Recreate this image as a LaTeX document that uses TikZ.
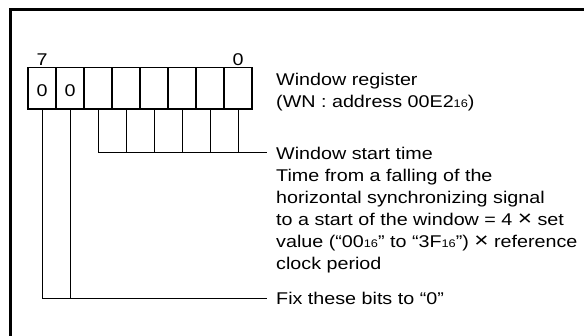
\documentclass[tikz,border=0pt]{standalone}
\usepackage{fontspec}
\newfontfamily\regfont[FakeStretch=1.16]{Liberation Sans}
\usetikzlibrary{positioning,calc}
\newcommand\hexsub[1]{{\fontsize{11}{11}\selectfont #1}}
\newcommand\tms{{\fontsize{21}{21}\selectfont ×}}
\tikzset{
  cell/.style={draw,line width=1.3pt,outer sep=0pt,inner sep=0pt,
               minimum width=28pt,minimum height=41.5pt,
               text height=17pt,text depth=0pt},
  lead/.style={line width=0.9pt},
  txt/.style={inner sep=0pt,align=left},
  bitno/.style={inner sep=0pt,text depth=0pt},
}

\begin{document}
\begin{tikzpicture}[x=1pt,y=-1pt,font=\regfont\fontsize{17}{22}\selectfont]
\useasboundingbox (0,0) rectangle (584,336);
\draw[line width=2.5pt] (10.5,336) -- (10.5,9.5) -- (584,9.5);
% register, bit 7 on the left
\foreach \b/\v [count=\i from 0] in {7/0,6/0,5/{},4/{},3/{},2/{},1/{},0/{}}
  \node[cell] (c\b) at ({42+28*\i},88.3) {\v};
\node[bitno,above=2pt of c7] (b7) {7};
\node[bitno,above=2pt of c0] (b0) {0};
% texts
\node[txt,anchor=north west] (wreg) at (276,72.8)
  {Window register\\(WN : address 00E2\hexsub{16})};
\node[txt,anchor=north west] (wtime) at (276,146.8)
  {Window start time\\Time from a falling of the\\horizontal synchronizing signal\\
   to a start of the window = 4 \tms{} set\\
   value (“00\hexsub{16}” to “3F\hexsub{16}”) \tms{} reference\\clock period};
\node[txt,anchor=base west] (wfix) at (276,305) {Fix these bits to “0”};
% leads
\coordinate (wend) at ([shift={(-9pt,-5.5pt)}]wtime.north west);
\foreach \b in {5,...,0}
  \draw[lead] (c\b.south) -- (c\b.south |- wend);
\draw[lead] (c5.south |- wend) -- (wend);
\draw[lead] (c7.south) |- ([xshift=-9pt]wfix.west);
\draw[lead] (c6.south) -- (c6.south |- wfix.west);
\end{tikzpicture}
\end{document}
